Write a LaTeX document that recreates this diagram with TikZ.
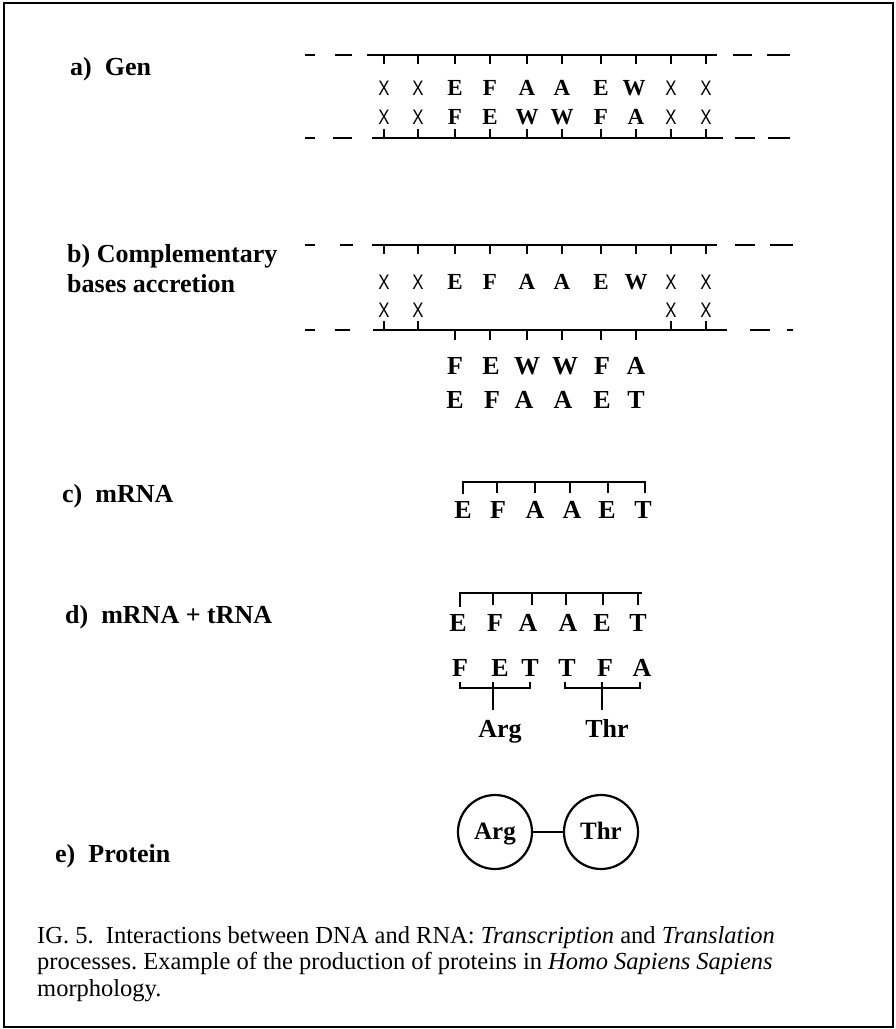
\documentclass[tikz,border=0pt]{standalone}
\usepackage{fontspec}
\setmainfont{Liberation Serif}
\newfontfamily\xfont[FakeStretch=0.8]{Liberation Sans}
\frenchspacing
\begin{document}
\begin{tikzpicture}[x=1pt, y=-1pt,
  letter/.style={font=\bfseries\fontsize{23}{23}\selectfont, inner sep=0pt},
  bigletter/.style={font=\bfseries\fontsize{26}{26}\selectfont, inner sep=0pt},
  xbase/.style={font=\xfont\fontsize{21}{21}\selectfont, inner sep=0pt},
  caselabel/.style={font=\bfseries\fontsize{26}{30}\selectfont, anchor=base west, inner sep=0pt, align=left},
  strand/.style={line width=2.6pt},
  acid/.style={shape=circle, draw, line width=2.2pt, minimum size=74pt, inner sep=0pt, text height=17pt, text depth=3pt, font=\bfseries\fontsize{25}{25}\selectfont}]
\useasboundingbox (0,0) rectangle (896,1029);
\draw[line width=2pt] (4,3) rectangle (893,1027);
% a) Gen
\node[caselabel] (la) at (70,75) {a)\ \ Gen};
\draw[strand] (305,55) -- (315,55) (335,55) -- (352,55) (367,55) -- (717,55) (733,55) -- (752,55) (767,55) -- (790,55)
  (384,55) -- ++(0,9) (418,55) -- ++(0,9) (455,55) -- ++(0,9) (490,55) -- ++(0,9) (527,55) -- ++(0,9)
  (562,55) -- ++(0,9) (601,55) -- ++(0,9) (636,55) -- ++(0,9) (671,55) -- ++(0,9) (706,55) -- ++(0,9);
\node[xbase] (gt1) at (384,88) {X};
\node[xbase] (gt2) at (418,88) {X};
\node[letter] (gt3) at (455,88) {E};
\node[letter] (gt4) at (490,88) {F};
\node[letter] (gt5) at (527,88) {A};
\node[letter] (gt6) at (562,88) {A};
\node[letter] (gt7) at (601,88) {E};
\node[letter] (gt8) at (634,88) {W};
\node[xbase] (gt9) at (671,88) {X};
\node[xbase] (gt10) at (706,88) {X};
\node[xbase] (gb1) at (384,117) {X};
\node[xbase] (gb2) at (418,117) {X};
\node[letter] (gb3) at (455,117) {F};
\node[letter] (gb4) at (490,117) {E};
\node[letter] (gb5) at (527,117) {W};
\node[letter] (gb6) at (562,117) {W};
\node[letter] (gb7) at (601,117) {F};
\node[letter] (gb8) at (636,117) {A};
\node[xbase] (gb9) at (671,117) {X};
\node[xbase] (gb10) at (706,117) {X};
\draw[strand] (305,138) -- (315,138) (333,138) -- (352,138) (372,138) -- (723,138) (735,138) -- (755,138) (768,138) -- (790,138)
  (384,138) -- ++(0,-9) (418,138) -- ++(0,-9) (455,138) -- ++(0,-9) (490,138) -- ++(0,-9) (527,138) -- ++(0,-9)
  (562,138) -- ++(0,-9) (601,138) -- ++(0,-9) (636,138) -- ++(0,-9) (671,138) -- ++(0,-9) (706,138) -- ++(0,-9);
% b) Complementary bases accretion
\node[caselabel] (lb) at (67,292) {b) Complementary\\bases accretion};
\draw[strand] (305,245) -- (315,245) (340,245) -- (353,245) (372,245) -- (717,245) (735,245) -- (755,245) (770,245) -- (793,245)
  (384,245) -- ++(0,9) (418,245) -- ++(0,9) (455,245) -- ++(0,9) (490,245) -- ++(0,9) (527,245) -- ++(0,9)
  (562,245) -- ++(0,9) (601,245) -- ++(0,9) (636,245) -- ++(0,9) (671,245) -- ++(0,9) (706,245) -- ++(0,9);
\node[xbase] (ct1) at (384,282) {X};
\node[xbase] (ct2) at (418,282) {X};
\node[letter] (ct3) at (455,282) {E};
\node[letter] (ct4) at (490,282) {F};
\node[letter] (ct5) at (527,282) {A};
\node[letter] (ct6) at (562,282) {A};
\node[letter] (ct7) at (601,282) {E};
\node[letter] (ct8) at (636,282) {W};
\node[xbase] (ct9) at (671,282) {X};
\node[xbase] (ct10) at (706,282) {X};
\node[xbase] (cb1) at (384,310) {X};
\node[xbase] (cb2) at (418,310) {X};
\node[xbase] (cb9) at (671,310) {X};
\node[xbase] (cb10) at (706,310) {X};
\draw[strand] (305,330) -- (315,330) (335,330) -- (350,330) (373,330) -- (727,330) (750,330) -- (770,330) (787,330) -- (793,330)
  (384,330) -- ++(0,-9) (418,330) -- ++(0,-9) (671,330) -- ++(0,-9) (706,330) -- ++(0,-9)
  (455,330) -- ++(0,10) (490,330) -- ++(0,10) (527,330) -- ++(0,10) (562,330) -- ++(0,10) (601,330) -- ++(0,10) (636,330) -- ++(0,10);
\node[bigletter] (cf1) at (455,366) {F};
\node[bigletter] (cf2) at (491,366) {E};
\node[bigletter] (cf3) at (527,366) {W};
\node[bigletter] (cf4) at (565,366) {W};
\node[bigletter] (cf5) at (602,366) {F};
\node[bigletter] (cf6) at (636,366) {A};
\node[bigletter] (ce1) at (455,400) {E};
\node[bigletter] (ce2) at (492,400) {F};
\node[bigletter] (ce3) at (524,400) {A};
\node[bigletter] (ce4) at (563,400) {A};
\node[bigletter] (ce5) at (602,400) {E};
\node[bigletter] (ce6) at (636,400) {T};
% c) mRNA
\node[caselabel] (lc) at (62,502) {c)\ \ mRNA};
\draw[strand] (463,494) -- (463,482) -- (646,482)
  (497,482) -- ++(0,11) (535,482) -- ++(0,11) (570,482) -- ++(0,11) (608,482) -- ++(0,11) (645,482) -- ++(0,11);
\node[bigletter] (m1) at (463,510) {E};
\node[bigletter] (m2) at (498,510) {F};
\node[bigletter] (m3) at (535,510) {A};
\node[bigletter] (m4) at (572,510) {A};
\node[bigletter] (m5) at (607,510) {E};
\node[bigletter] (m6) at (643,510) {T};
% d) mRNA + tRNA
\node[caselabel] (ld) at (65,623) {d)\ \ mRNA + tRNA};
\draw[strand] (460,607) -- (460,593) -- (642,593)
  (493,593) -- ++(0,12) (532,593) -- ++(0,12) (566,593) -- ++(0,12) (603,593) -- ++(0,12) (638,593) -- ++(0,12);
\node[bigletter] (dm1) at (458,623) {E};
\node[bigletter] (dm2) at (495,623) {F};
\node[bigletter] (dm3) at (528,623) {A};
\node[bigletter] (dm4) at (568,623) {A};
\node[bigletter] (dm5) at (602,623) {E};
\node[bigletter] (dm6) at (638,623) {T};
\node[bigletter] (dt1) at (460,668) {F};
\node[bigletter] (dt2) at (500,668) {E};
\node[bigletter] (dt3) at (530,668) {T};
\node[bigletter] (dt4) at (567,668) {T};
\node[bigletter] (dt5) at (605,668) {F};
\node[bigletter] (dt6) at (642,668) {A};
\draw[strand] (460,682) -- (460,688) -- (530,688) -- (530,682) (493,682) -- (493,710);
\draw[strand] (565,682) -- (565,688) -- (640,688) -- (640,682) (602,682) -- (602,710);
\node[bigletter, anchor=base] (aa1) at (500,737) {Arg};
\node[bigletter, anchor=base] (aa2) at (607,737) {Thr};
% e) Protein
\node[caselabel] (le) at (55,862) {e)\ \ Protein};
\node[acid] (p1) at (495,832) {Arg};
\node[acid] (p2) at (601,832) {Thr};
\draw[line width=2.2pt] (p1) -- (p2);
% caption
\node[font=\fontsize{24.5}{26.5}\selectfont, anchor=north west, align=left, inner sep=0pt] (cap) at (37,926)
  {IG. 5.\ \ Interactions between DNA and RNA: \textit{Transcription} and \textit{Translation}\\
   processes. Example of the production of proteins in \textit{Homo Sapiens Sapiens}\\
   morphology.};
\end{tikzpicture}
\end{document}
